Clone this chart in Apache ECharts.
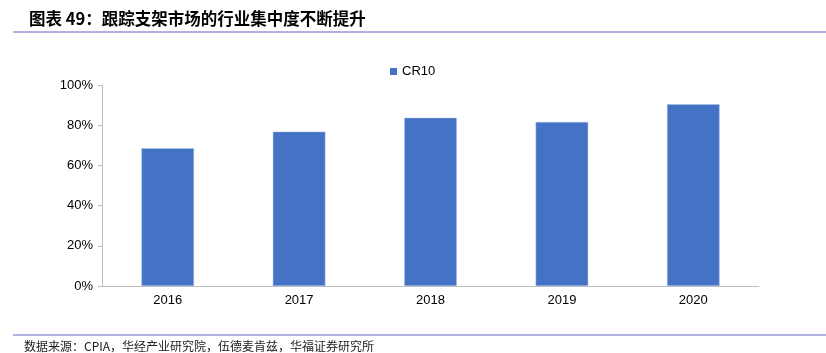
<!DOCTYPE html>
<html>
<head>
<meta charset="utf-8">
<script src="https://cdn.jsdelivr.net/npm/echarts@6/dist/echarts.min.js"></script>
<style>
html,body{margin:0;padding:0;background:#fff;}
#c{width:826px;height:353px;}
</style>
</head>
<body>
<div id="c"></div>
<script>
const categories = ['2016', '2017', '2018', '2019', '2020'];
const cr10 = [68.5, 76.8, 83.7, 81.6, 90.4];
const yTicks = [0, 20, 40, 60, 80, 100];
const titleText = '图表 49：跟踪支架市场的行业集中度不断提升';
const sourceText = '数据来源：CPIA，华经产业研究院，伍德麦肯兹，华福证券研究所';

const chart = echarts.init(document.getElementById('c'), null, {renderer: 'canvas'});
const lineColor = '#6464C0';
chart.setOption({
  animation: false,
  backgroundColor: '#fff',
  textStyle: {fontFamily: 'Liberation Sans, Arial, sans-serif'},
  title: {
    text: titleText,
    left: 24, top: 5,
    textStyle: {fontFamily: 'Noto Sans CJK SC', fontWeight: 'bold', fontSize: 16.5, color: '#000'}
  },
  legend: {
    data: ['CR10'],
    icon: 'rect',
    top: 60, left: 385,
    itemWidth: 7, itemHeight: 7, itemGap: 3,
    itemStyle: {borderWidth: 0},
    textStyle: {fontSize: 13, color: '#000', fontFamily: 'Liberation Sans, Arial, sans-serif'}
  },
  grid: {left: 102, right: 67, top: 85, bottom: 67, containLabel: false},
  xAxis: {
    type: 'category',
    data: categories,
    axisLine: {lineStyle: {color: '#BFBFBF', width: 1}},
    axisTick: {show: false},
    axisLabel: {color: '#000', fontSize: 13, margin: 8}
  },
  yAxis: {
    type: 'value',
    min: yTicks[0], max: yTicks[yTicks.length - 1], interval: 20,
    axisLine: {show: true, lineStyle: {color: '#BFBFBF', width: 1}},
    axisTick: {show: true, length: 4, lineStyle: {color: '#BFBFBF'}},
    splitLine: {show: false},
    axisLabel: {color: '#000', fontSize: 13, margin: 9, formatter: v => v + '%'}
  },
  series: [{
    name: 'CR10',
    type: 'bar',
    data: cr10,
    barWidth: '40%',
    itemStyle: {color: '#4472C4', borderColor: '#A9BEE6', borderWidth: 0.5}
  }],
  graphic: [
    {type: 'line', shape: {x1: 13, y1: 32, x2: 826, y2: 32}, style: {stroke: lineColor, lineWidth: 1.2}},
    {type: 'line', shape: {x1: 13, y1: 335, x2: 826, y2: 335}, style: {stroke: lineColor, lineWidth: 1.2}},
    {type: 'text', left: 24, top: 340, style: {text: sourceText, fontSize: 12, fill: '#222', fontFamily: 'Noto Sans CJK SC'}}
  ]
});
</script>
</body>
</html>
